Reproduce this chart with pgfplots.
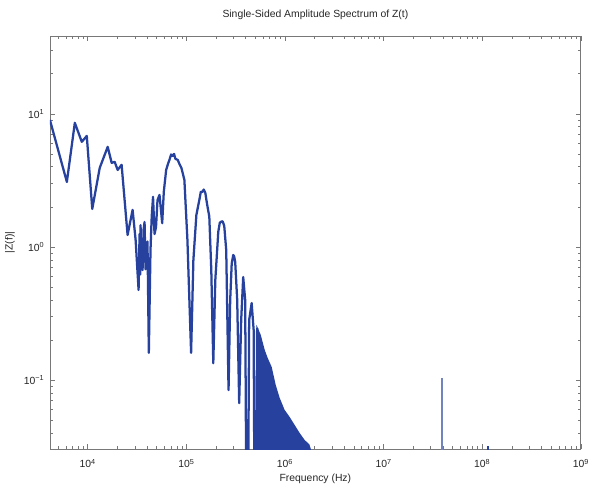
\documentclass[border=0pt]{standalone}
\usepackage{fontspec}
\setmainfont{Liberation Sans}
\usepackage{pgfplots}
\pgfplotsset{compat=1.18}
\definecolor{mblue}{RGB}{38,66,158}
\definecolor{frame}{RGB}{120,120,120}
\begin{document}
\begin{tikzpicture}
\begin{axis}[
  xmode=log, ymode=log,
  scale only axis, width=399pt, height=310.5pt,
  xmin=4130, xmax=1e9, ymin=0.0303, ymax=38.5,
  xtick={1e4,1e5,1e6,1e7,1e8,1e9},
  xticklabels={10\textsuperscript{4},10\textsuperscript{5},10\textsuperscript{6},10\textsuperscript{7},10\textsuperscript{8},10\textsuperscript{9}},
  ytick={0.1,1,10},
  yticklabels={10\textsuperscript{−1},10\textsuperscript{0},10\textsuperscript{1}},
  minor xtick={5000,6000,7000,8000,9000,
    2e4,3e4,4e4,5e4,6e4,7e4,8e4,9e4,
    2e5,3e5,4e5,5e5,6e5,7e5,8e5,9e5,
    2e6,3e6,4e6,5e6,6e6,7e6,8e6,9e6,
    2e7,3e7,4e7,5e7,6e7,7e7,8e7,9e7,
    2e8,3e8,4e8,5e8,6e8,7e8,8e8,9e8},
  minor ytick={0.04,0.05,0.06,0.07,0.08,0.09,
    0.2,0.3,0.4,0.5,0.6,0.7,0.8,0.9,
    2,3,4,5,6,7,8,9,20,30},
  tick align=inside,
  major tick length=3.75pt, minor tick length=2.2pt,
  every tick/.style={frame, line width=0.5pt},
  axis line style={frame, line width=0.6pt},
  tick label style={font=\fontsize{7.8}{9}\selectfont, text=black!85},
  xticklabel style={anchor=base, yshift=-14pt, inner sep=0pt},
  yticklabel style={anchor=east, inner sep=0pt, xshift=-4pt},
  title={Single-Sided Amplitude Spectrum of Z(t)},
  title style={font=\fontsize{7.8}{9}\selectfont, text=black!85, anchor=base, at={(0.5,1.026)}},
  xlabel={Frequency (Hz)},
  xlabel style={font=\fontsize{7.8}{9}\selectfont, text=black!85, anchor=base, at={(0.5,-0.0773)}},
  ylabel={|Z(f)|},
  ylabel style={font=\fontsize{7.8}{9}\selectfont, text=black!85, anchor=center, at={(-0.0752,0.5)}},
]
\addplot[mblue, line width=1.7pt, line join=round] coordinates {
(4130,9.01) (6136,3.08) (7390,8.56) (8694,6.16) (9770,6.83) (11100,1.93)
(13220,3.93) (15920,5.65) (17480,4.28) (18740,4.36) (20090,3.79) (22030,4.14)
(25330,1.23) (28480,1.90) (30550,1.13) (32740,0.475) (33500,1.25) (34000,0.62)
(34290,1.46) (35000,0.75) (35940,0.671) (36800,1.35)
(37660,1.54) (38500,0.68) (39470,0.798) (40300,1.10) (41590,0.160) (43250,0.949)
(44500,1.70) (45890,2.38) (47500,1.25) (49200,1.41)
(50930,2.25) (53370,2.46) (56830,1.51) (59000,2.60) (62340,3.79) (65000,4.20) (67300,4.51) (70000,4.95) (72720,4.83)
(75000,5.00) (77400,4.59) (81650,4.51) (85000,4.20) (88960,3.93) (95400,3.19) (102400,1.13) (111600,0.160)
(117700,0.798) (126200,1.74) (135200,2.25) (140000,2.60) (145100,2.59) (150000,2.70) (155500,2.55) (162000,2.10) (170700,1.69)
(178800,0.671) (187400,0.134) (196400,0.565) (210500,1.30) (218000,1.52) (225800,1.55) (233000,1.56) (241900,1.44)
(253400,0.949) (267500,0.0841) (278000,0.400) (288000,0.75) (298400,0.871) (305000,0.85) (312500,0.771) (327400,0.400)
(343000,0.0671) (359400,0.283) (376600,0.595) (394500,0.400) (413300,0.001) (433000,0.283)
(458800,0.379) (480700,0.238) (497800,0.001) (521600,0.246)
};
\addplot[mblue, fill=mblue, line width=1pt] coordinates {
(521600,0.001) (521600,0.246) (558800,0.218) (613300,0.168) (657500,0.146)
(722000,0.125) (792900,0.0917) (869600,0.0733) (977000,0.0594) (1096000,0.0527)
(1232000,0.0459) (1383000,0.0400) (1555000,0.0354) (1747000,0.0325) (1831000,0.029)
(1831000,0.001)
};
\addplot[mblue!65, line width=2pt] coordinates {(3.9e7,0.001) (3.9e7,0.103)};
\addplot[mblue, line width=1.8pt] coordinates {(1.15e8,0.001) (1.15e8,0.0318)};
\end{axis}
\path (current axis.south west) ++(-37.5pt,-27.75pt) rectangle ++(441.75pt,365.25pt);
\end{tikzpicture}
\end{document}
